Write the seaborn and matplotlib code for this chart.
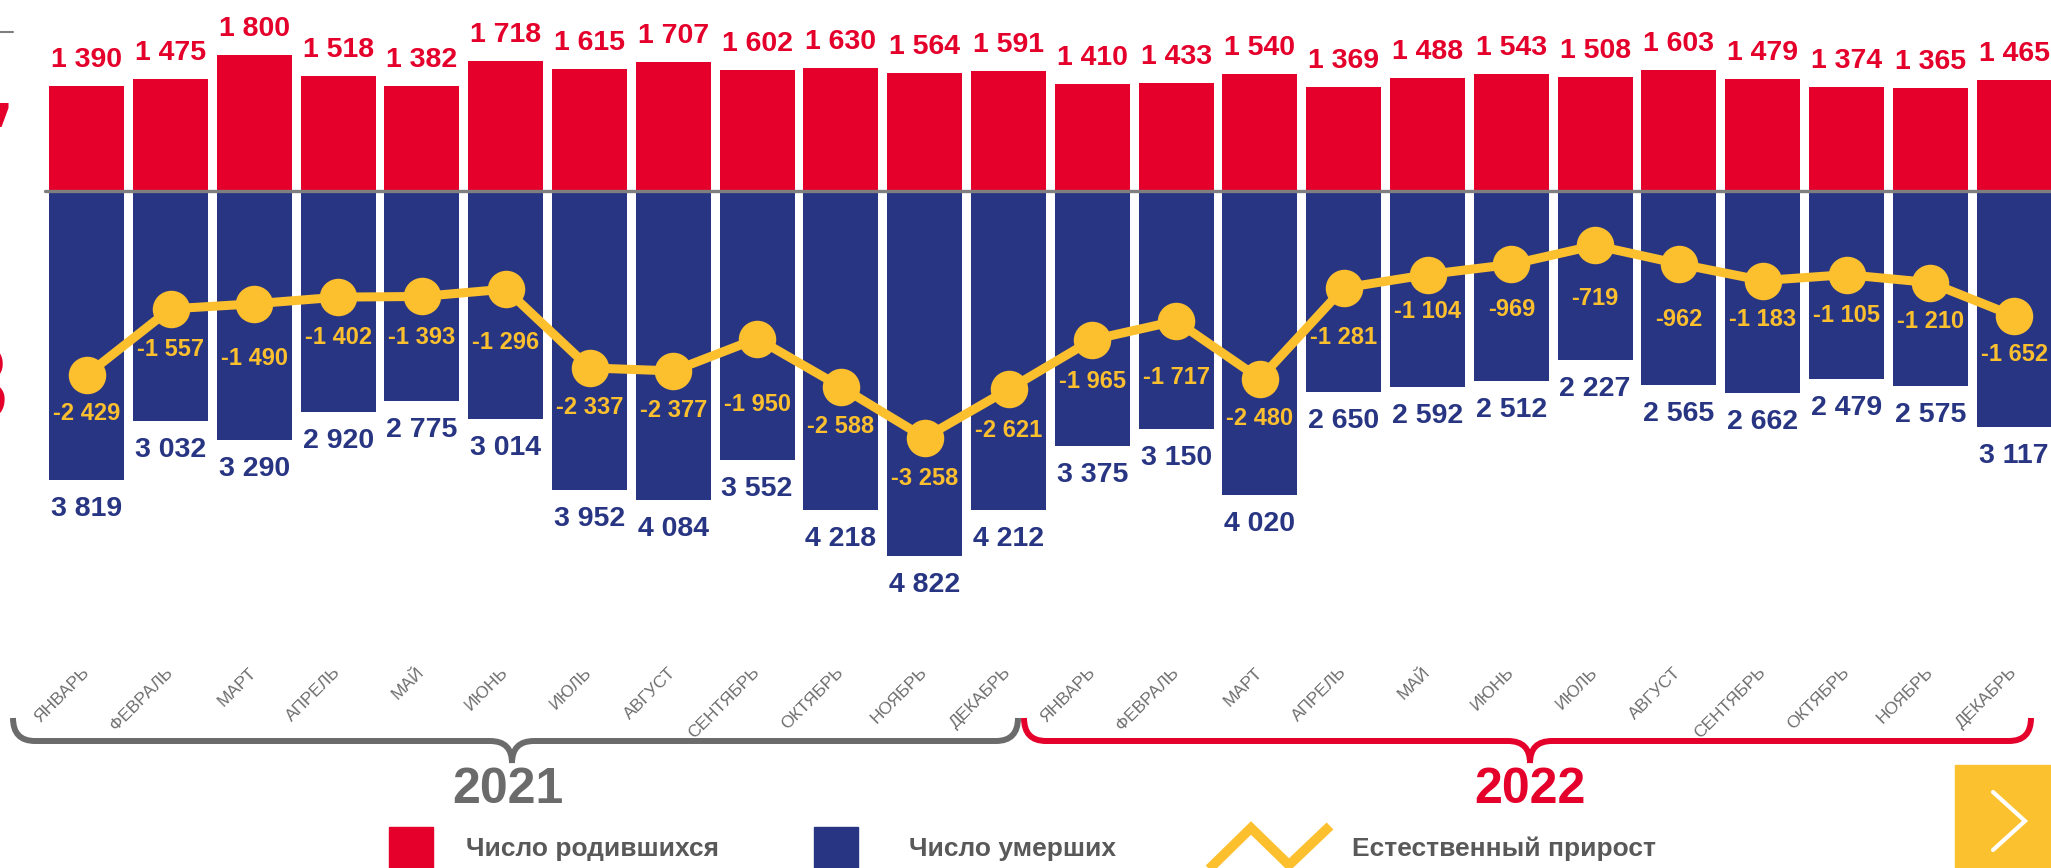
import matplotlib
matplotlib.use("Agg")
import matplotlib.pyplot as plt
from matplotlib.path import Path
from matplotlib.patches import PathPatch, Rectangle, Polygon
import numpy as np
import pandas as pd
import seaborn as sns

# --- data -------------------------------------------------------------
months = ["ЯНВАРЬ", "ФЕВРАЛЬ", "МАРТ", "АПРЕЛЬ", "МАЙ", "ИЮНЬ", "ИЮЛЬ",
          "АВГУСТ", "СЕНТЯБРЬ", "ОКТЯБРЬ", "НОЯБРЬ", "ДЕКАБРЬ"]
years = ["2021", "2022"]
births = [1390, 1475, 1800, 1518, 1382, 1718, 1615, 1707, 1602, 1630, 1564, 1591,
          1410, 1433, 1540, 1369, 1488, 1543, 1508, 1603, 1479, 1374, 1365, 1465]
deaths = [3819, 3032, 3290, 2920, 2775, 3014, 3952, 4084, 3552, 4218, 4822, 4212,
          3375, 3150, 4020, 2650, 2592, 2512, 2227, 2565, 2662, 2479, 2575, 3117]
natural = [-2429, -1557, -1490, -1402, -1393, -1296, -2337, -2377, -1950, -2588, -3258, -2621,
           -1965, -1717, -2480, -1281, -1104, -969, -719, -962, -1183, -1105, -1210, -1652]
legend_labels = ["Число родившихся", "Число умерших", "Естественный прирост"]

# how far (px) each natural-increase label sits below its dot
nat_label_dy = [39, 41, 55, 40, 41, 53, 40, 40, 66, 40, 41, 41,
                42, 57, 40, 50, 37, 45, 53, 56, 39, 41, 39, 38]

RED = "#E4002B"
BLUE = "#283583"
YELLOW = "#FCC02E"
GRAY = "#6b6b6b"

df = pd.DataFrame({
    "pos": np.arange(len(births)),
    "month": months * 2,
    "births": births,
    "deaths": [-d for d in deaths],
    "natural": natural,
})

sns.set_theme(style="white")
plt.rcParams["font.family"] = ["Liberation Sans", "DejaVu Sans"]

W, H = 2051, 868
fig = plt.figure(figsize=(W / 100, H / 100), dpi=100)
ax = fig.add_axes([0, 0, 1, 1])

# pixel geometry of the plot (bar centres / zero line)
x0_px, step_px = 86.7, 83.8
zero_px, k = 191, 0.0757


def y_of(px):
    return (zero_px - px) / k


def x_of(px):
    return (px - x0_px) / step_px


sns.barplot(data=df, x="pos", y="births", native_scale=True, color=RED,
            saturation=1, width=0.895, linewidth=0, errorbar=None, ax=ax)
sns.barplot(data=df, x="pos", y="deaths", native_scale=True, color=BLUE,
            saturation=1, width=0.895, linewidth=0, errorbar=None, ax=ax)
ax.plot([x_of(45), 30], [0, 0], color="#7f7f7f", lw=2.4, zorder=3)
sns.lineplot(data=df, x="pos", y="natural", color=YELLOW, linewidth=6.5,
             marker="o", markersize=27, markeredgewidth=0, ax=ax, zorder=5)


def fmt(v):
    return f"{v:,}".replace(",", " ")


for i, row in df.iterrows():
    ax.annotate(fmt(row["births"]), (row["pos"], row["births"]), xytext=(0, 26),
                textcoords="offset pixels", ha="center", va="center",
                fontsize=20.5, fontweight="bold", color=RED)
    ax.annotate(fmt(-row["deaths"]), (row["pos"], row["deaths"]), xytext=(0, -29),
                textcoords="offset pixels", ha="center", va="center",
                fontsize=20.5, fontweight="bold", color=BLUE)
    ax.annotate(fmt(row["natural"]), (row["pos"], row["natural"]),
                xytext=(0, -nat_label_dy[i]), textcoords="offset pixels",
                ha="center", va="center", fontsize=17, fontweight="bold",
                color=YELLOW, zorder=6)
    ax.text(row["pos"], y_of(670), row["month"], rotation=45,
            rotation_mode="anchor", ha="right", va="center",
            fontsize=12.5, color="#6e6e6e")

ax.set_xlim(x_of(0), x_of(W))
ax.set_ylim(y_of(H), y_of(0))
ax.axis("off")

# --- decorations in pixel space --------------------------------------
deco = fig.add_axes([0, 0, 1, 1], zorder=10)
deco.set_xlim(0, W)
deco.set_ylim(H, 0)
deco.axis("off")
deco.patch.set_alpha(0)


def brace(xl, xr, xc, color):
    top, mid, tip, r = 718, 741, 763, 22
    verts = [(xl, top), (xl, mid), (xl + r, mid), (xc - r, mid), (xc, mid), (xc, tip),
             (xc, mid), (xc + r, mid), (xr - r, mid), (xr, mid), (xr, top)]
    codes = [Path.MOVETO, Path.CURVE3, Path.CURVE3, Path.LINETO, Path.CURVE3, Path.CURVE3,
             Path.CURVE3, Path.CURVE3, Path.LINETO, Path.CURVE3, Path.CURVE3]
    deco.add_patch(PathPatch(Path(verts, codes), fill=False, edgecolor=color,
                             lw=4.3, capstyle="butt"))


brace(13, 1018, 512, GRAY)
brace(1024, 2031, 1530, RED)
deco.text(508, 790, years[0], ha="center", va="center", fontsize=36,
          fontweight="bold", color=GRAY)
deco.text(1530, 790, years[1], ha="center", va="center", fontsize=36,
          fontweight="bold", color=RED)

# legend
deco.add_patch(Rectangle((389, 827), 44, 50, color=RED))
deco.text(466, 849, legend_labels[0], ha="left", va="center", fontsize=19,
          fontweight="bold", color="#595959")
deco.add_patch(Rectangle((814, 827), 44, 50, color=BLUE))
deco.text(909, 849, legend_labels[1], ha="left", va="center", fontsize=19,
          fontweight="bold", color="#595959")
deco.plot([1203, 1251, 1289, 1330], [875, 828, 865, 826], color=YELLOW, lw=7,
          solid_joinstyle="miter", solid_capstyle="butt")
deco.text(1352, 849, legend_labels[2], ha="left", va="center", fontsize=19,
          fontweight="bold", color="#595959")

# next-slide button
deco.add_patch(Rectangle((1955, 765), 100, 110, color="#FBC12F"))
deco.plot([1993, 2025, 1993], [792, 821, 850], color="white", lw=3,
          solid_capstyle="round", solid_joinstyle="miter")

# cropped bits at the left edge
deco.plot([0, 13], [32, 32], color="#7f7f7f", lw=1.5)
deco.add_patch(Polygon([(0, 103), (8.5, 103), (8.5, 108), (1.5, 127), (0, 127)],
                       color=RED, lw=0))
deco.text(8, 392, "3", ha="right", va="center", fontsize=77, fontweight="bold",
          color=RED)

fig.savefig("out.png", dpi=100)
